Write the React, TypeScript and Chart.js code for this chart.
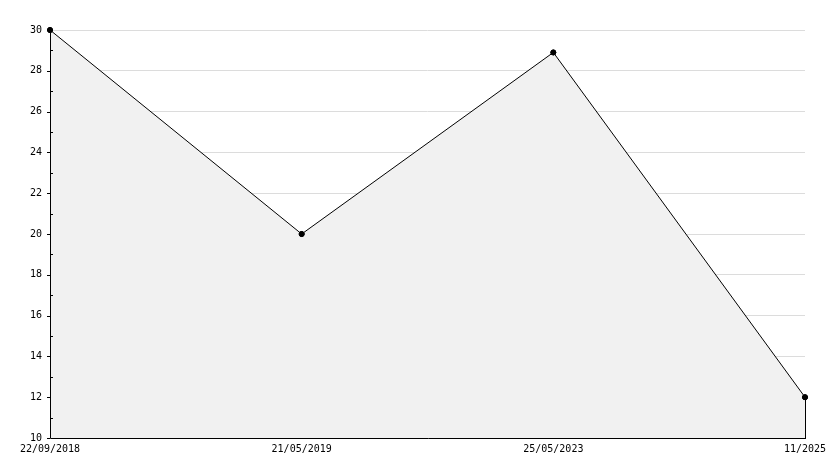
import React, { useEffect, useRef } from "react";
import { Chart, registerables } from "chart.js";

Chart.register(...registerables);

const categories = ["22/09/2018", "21/05/2019", "25/05/2023", "11/2025"];
const values = [30, 20, 28.9, 12];
const yMin = 10;
const yMax = 30;
const yStep = 2;
const majorTickValues = [10, 12, 14, 16, 18, 20, 22, 24, 26, 28, 30];
const minorTickValues = [11, 13, 15, 17, 19, 21, 23, 25, 27, 29];

const FONT = "'DejaVu Sans Mono', monospace";

const extrasPlugin = {
  id: "extras",
  afterDatasetsDraw(chart: any) {
    const ctx = chart.ctx;
    const area = chart.chartArea;
    const meta = chart.getDatasetMeta(0);
    const last = meta.data[meta.data.length - 1];
    const yScale = chart.scales.y;
    ctx.save();
    ctx.strokeStyle = "#000";
    ctx.lineWidth = 1;
    const left = Math.round(area.left) + 0.5;
    const bottom = Math.round(area.bottom) + 0.5;
    // axes
    ctx.beginPath();
    ctx.moveTo(left, Math.round(area.top));
    ctx.lineTo(left, bottom);
    ctx.lineTo(Math.round(area.right) + 1, bottom);
    ctx.stroke();
    if (last) {
      const x = Math.round(last.x) + 0.5;
      ctx.beginPath();
      ctx.moveTo(x, last.y);
      ctx.lineTo(x, bottom);
      ctx.stroke();
    }
    for (const v of majorTickValues) {
      const y = Math.round(yScale.getPixelForValue(v)) + 0.5;
      ctx.beginPath();
      ctx.moveTo(area.left - 3, y);
      ctx.lineTo(area.left, y);
      ctx.stroke();
    }
    for (const v of minorTickValues) {
      const y = Math.round(yScale.getPixelForValue(v)) + 0.5;
      ctx.beginPath();
      ctx.moveTo(area.left, y);
      ctx.lineTo(area.left + 3, y);
      ctx.stroke();
    }
    ctx.restore();
    // redraw points on top
    meta.data.forEach((p: any) => p.draw(ctx, area));
  },
};

export default function App() {
  const ref = useRef<HTMLCanvasElement | null>(null);
  useEffect(() => {
    if (!ref.current) return;
    const chart = new Chart(ref.current, {
      type: "line",
      data: {
        labels: categories,
        datasets: [
          {
            data: values,
            borderColor: "#000",
            borderWidth: 1,
            backgroundColor: "#f1f1f1",
            fill: "start",
            tension: 0,
            pointRadius: 2.5,
            pointBackgroundColor: "#000",
            pointBorderColor: "#000",
            pointBorderWidth: 1,
            pointStyle: "circle",
            clip: false,
          },
        ],
      },
      options: {
        responsive: false,
        animation: false,
        devicePixelRatio: 1,
        layout: { padding: { left: 0, right: 29, top: 30, bottom: 0 } },
        plugins: { legend: { display: false }, tooltip: { enabled: false } },
        scales: {
          x: {
            type: "category",
            offset: false,
            grid: { display: false, drawTicks: false },
            border: { display: false },
            ticks: {
              autoSkip: false,
              maxRotation: 0,
              padding: 5,
              color: "#000",
              font: { family: FONT, size: 10 },
            },
            afterFit: (s: any) => {
              s.height = 30;
            },
          },
          y: {
            min: yMin,
            max: yMax,
            grid: {
              color: (c: any) => (c.tick && c.tick.value === yMin ? "rgba(0,0,0,0)" : "#dcdcdc"),
              tickColor: "rgba(0,0,0,0)",
              tickLength: 3,
              lineWidth: 1,
            },
            border: { display: false },
            ticks: {
              stepSize: yStep,
              padding: 5,
              color: "#000",
              font: { family: FONT, size: 10 },
            },
            afterFit: (s: any) => {
              s.width = 50;
            },
          },
        },
      },
      plugins: [extrasPlugin],
    });
    return () => chart.destroy();
  }, []);
  return (
    <div style={{ position: "absolute", left: 0, top: 0, width: 834, height: 468, background: "#fff" }}>
      <canvas ref={ref} width={834} height={468} />
    </div>
  );
}
